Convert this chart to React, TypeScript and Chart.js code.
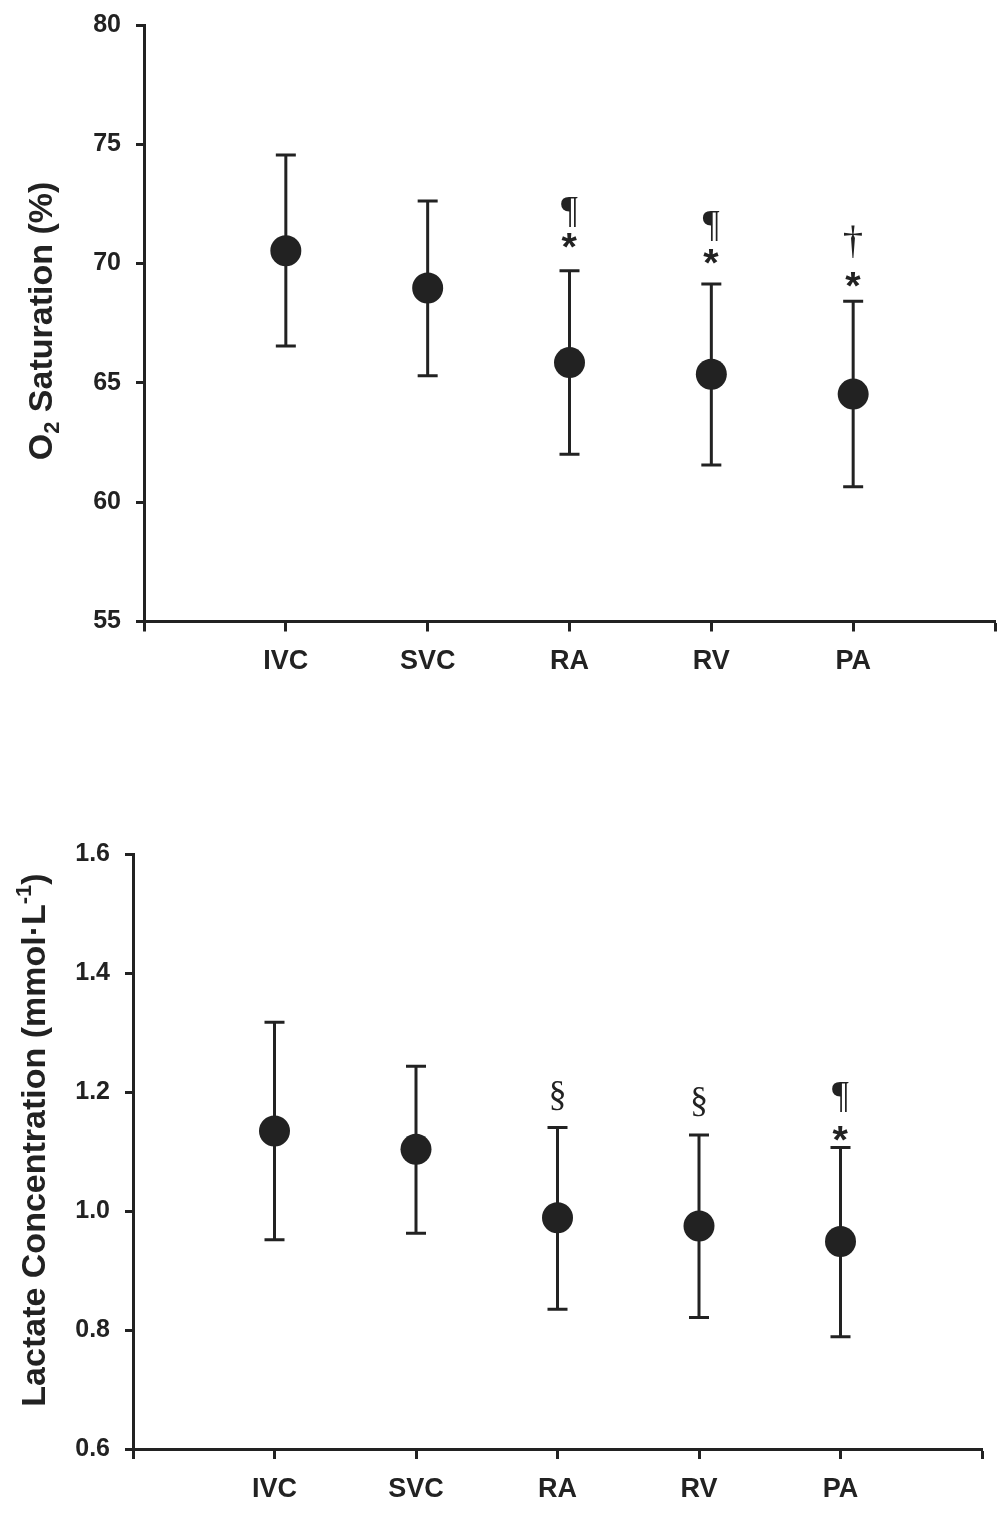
import React, { useEffect, useRef } from 'react';
import { Chart, registerables } from 'chart.js';

Chart.register(...registerables);

// ---------- data ----------
const categories = ['IVC', 'SVC', 'RA', 'RV', 'PA'];

const o2Mean = [70.54, 68.98, 65.85, 65.36, 64.53];
const o2Upper = [74.55, 72.62, 69.7, 69.15, 68.42];
const o2Lower = [66.55, 65.3, 62.01, 61.56, 60.65];
const o2TickValues = [55, 60, 65, 70, 75, 80];

const lacMean = [1.135, 1.104, 0.989, 0.975, 0.949];
const lacUpper = [1.318, 1.244, 1.141, 1.128, 1.107];
const lacLower = [0.952, 0.963, 0.835, 0.821, 0.789];
const lacTickValues = [0.6, 0.8, 1.0, 1.2, 1.4, 1.6];

// significance symbols: category, value position, symbol
const o2MarkCats = ['RA', 'RA', 'RV', 'RV', 'PA', 'PA'];
const o2MarkVals = [72.18, 70.95, 71.58, 70.29, 70.92, 69.35];
const o2MarkText = ['¶', '*', '¶', '*', '†', '*'];

const lacMarkCats = ['RA', 'RV', 'PA', 'PA'];
const lacMarkVals = [1.193, 1.1845, 1.192, 1.131];
const lacMarkText = ['§', '§', '¶', '*'];

const INK = '#222222';
const SANS = '"Liberation Sans", Arial, Helvetica, sans-serif';
const SERIF = '"Liberation Serif", "Times New Roman", serif';

// target glyph heights (px) for the symbols
const GLYPH_HEIGHT: Record<string, number> = { '*': 15, '¶': 29, '§': 29, '†': 33 };

type TitlePart = { text: string; mode: 'n' | 'sub' | 'sup' };

interface PanelCfg {
  width: number;
  height: number;
  top: number;
  mean: number[];
  upper: number[];
  lower: number[];
  ticks: number[];
  decimals: number;
  yAxisWidth: number;
  padTop: number;
  padRight: number;
  xAxisHeight: number;
  title: TitlePart[];
  titleBaseX: number;
  titleCenterY: number;
  markCats: string[];
  markVals: number[];
  markText: string[];
}

const TITLE_SIZE = 34;

function drawTitle(ctx: CanvasRenderingContext2D, cfg: PanelCfg) {
  const parts = cfg.title;
  const sizeOf = (p: TitlePart) => (p.mode === 'n' ? TITLE_SIZE : Math.round(TITLE_SIZE * 0.65));
  let total = 0;
  const widths: number[] = [];
  for (const p of parts) {
    ctx.font = `bold ${sizeOf(p)}px ${SANS}`;
    const w = ctx.measureText(p.text).width;
    widths.push(w);
    total += w;
  }
  ctx.save();
  ctx.translate(cfg.titleBaseX, cfg.titleCenterY);
  ctx.rotate(-Math.PI / 2);
  ctx.fillStyle = INK;
  ctx.textAlign = 'left';
  ctx.textBaseline = 'alphabetic';
  let u = -total / 2;
  parts.forEach((p, i) => {
    ctx.font = `bold ${sizeOf(p)}px ${SANS}`;
    let v = 0;
    if (p.mode === 'sub') v = TITLE_SIZE * 0.22;
    if (p.mode === 'sup') v = -TITLE_SIZE * 0.42;
    ctx.fillText(p.text, u, v);
    u += widths[i];
  });
  ctx.restore();
}

function fontFor(text: string, size: number) {
  return text === '*' ? `bold ${size}px ${SANS}` : `${size}px ${SERIF}`;
}

function drawMark(ctx: CanvasRenderingContext2D, text: string, px: number, py: number) {
  ctx.save();
  ctx.font = fontFor(text, 100);
  const m0 = ctx.measureText(text);
  const h0 = m0.actualBoundingBoxAscent + m0.actualBoundingBoxDescent || 60;
  const target = GLYPH_HEIGHT[text] ?? 28;
  const size = (100 * target) / h0;
  ctx.font = fontFor(text, size);
  ctx.fillStyle = INK;
  ctx.textAlign = 'left';
  ctx.textBaseline = 'alphabetic';
  const m = ctx.measureText(text);
  const w = m.actualBoundingBoxLeft + m.actualBoundingBoxRight;
  const h = m.actualBoundingBoxAscent + m.actualBoundingBoxDescent;
  const x = px - w / 2 + m.actualBoundingBoxLeft;
  const y = py - h / 2 + m.actualBoundingBoxAscent;
  ctx.fillText(text, x, y);
  ctx.restore();
}

function zeroPad(s: any) {
  s.paddingTop = 0;
  s.paddingBottom = 0;
  s.paddingLeft = 0;
  s.paddingRight = 0;
}

function buildChart(canvas: HTMLCanvasElement, cfg: PanelCfg) {
  const points = cfg.mean.map((v, i) => ({ x: i + 1, y: v }));
  const overlay = {
    id: 'overlay',
    beforeDatasetsDraw(chart: any) {
      const ctx = chart.ctx as CanvasRenderingContext2D;
      const xs = chart.scales.x;
      const ys = chart.scales.y;
      ctx.save();
      ctx.strokeStyle = INK;
      ctx.lineWidth = 3;
      ctx.lineCap = 'butt';
      cfg.mean.forEach((_, i) => {
        const px = xs.getPixelForValue(i + 1);
        const yu = ys.getPixelForValue(cfg.upper[i]);
        const yl = ys.getPixelForValue(cfg.lower[i]);
        ctx.beginPath();
        ctx.moveTo(px, yu);
        ctx.lineTo(px, yl);
        ctx.moveTo(px - 10, yu);
        ctx.lineTo(px + 10, yu);
        ctx.moveTo(px - 10, yl);
        ctx.lineTo(px + 10, yl);
        ctx.stroke();
      });
      ctx.restore();
    },
    afterDraw(chart: any) {
      const ctx = chart.ctx as CanvasRenderingContext2D;
      const xs = chart.scales.x;
      const ys = chart.scales.y;
      cfg.markCats.forEach((c, i) => {
        const px = xs.getPixelForValue(categories.indexOf(c) + 1);
        const py = ys.getPixelForValue(cfg.markVals[i]);
        drawMark(ctx, cfg.markText[i], px, py);
      });
      drawTitle(ctx, cfg);
    },
  };

  return new Chart(canvas, {
    type: 'scatter',
    data: {
      datasets: [
        {
          data: points,
          pointRadius: 15.5,
          pointHoverRadius: 15.5,
          pointBackgroundColor: INK,
          pointBorderWidth: 0,
          showLine: false,
          clip: false,
        },
      ],
    },
    options: {
      animation: false,
      responsive: false,
      devicePixelRatio: 1,
      events: [],
      layout: {
        autoPadding: false,
        padding: { left: 0, top: cfg.padTop, right: cfg.padRight, bottom: 0 },
      },
      plugins: { legend: { display: false }, tooltip: { enabled: false }, title: { display: false } },
      scales: {
        x: {
          type: 'linear',
          min: 0,
          max: 6,
          afterFit: (s: any) => {
            s.height = cfg.xAxisHeight;
            zeroPad(s);
          },
          afterBuildTicks: (s: any) => {
            s.ticks = [0, 1, 2, 3, 4, 5, 6].map((v) => ({ value: v }));
          },
          ticks: {
            autoSkip: false,
            maxRotation: 0,
            minRotation: 0,
            padding: 14,
            color: INK,
            font: { family: SANS, size: 27, weight: 'bold' },
            callback: (v: any) => categories[Number(v) - 1] ?? '',
          },
          grid: {
            display: true,
            drawOnChartArea: false,
            drawTicks: true,
            tickLength: 10,
            tickWidth: 3,
            tickColor: INK,
          },
          border: { display: true, width: 3, color: INK },
        },
        y: {
          type: 'linear',
          min: cfg.ticks[0],
          max: cfg.ticks[cfg.ticks.length - 1],
          afterFit: (s: any) => {
            s.width = cfg.yAxisWidth;
            zeroPad(s);
          },
          afterBuildTicks: (s: any) => {
            s.ticks = cfg.ticks.map((v) => ({ value: v }));
          },
          ticks: {
            autoSkip: false,
            padding: 15,
            color: INK,
            font: { family: SANS, size: 25, weight: 'bold' },
            callback: (v: any) => Number(v).toFixed(cfg.decimals),
          },
          grid: {
            display: true,
            drawOnChartArea: false,
            drawTicks: true,
            tickLength: 8,
            tickWidth: 3,
            tickColor: INK,
          },
          border: { display: true, width: 3, color: INK },
        },
      },
    },
    plugins: [overlay],
  } as any);
}

const topCfg: PanelCfg = {
  width: 1004,
  height: 760,
  top: 0,
  mean: o2Mean,
  upper: o2Upper,
  lower: o2Lower,
  ticks: o2TickValues,
  decimals: 0,
  yAxisWidth: 144,
  padTop: 25,
  padRight: 9,
  xAxisHeight: 760 - 621.5,
  title: [
    { text: 'O', mode: 'n' },
    { text: '2', mode: 'sub' },
    { text: ' Saturation (%)', mode: 'n' },
  ],
  titleBaseX: 52,
  titleCenterY: 321,
  markCats: o2MarkCats,
  markVals: o2MarkVals,
  markText: o2MarkText,
};

const bottomCfg: PanelCfg = {
  width: 1004,
  height: 761,
  top: 760,
  mean: lacMean,
  upper: lacUpper,
  lower: lacLower,
  ticks: lacTickValues,
  decimals: 1,
  yAxisWidth: 133,
  padTop: 94.5,
  padRight: 22,
  xAxisHeight: 761 - 689,
  title: [
    { text: 'Lactate Concentration (mmol\u00B7L', mode: 'n' },
    { text: '-1', mode: 'sup' },
    { text: ')', mode: 'n' },
  ],
  titleBaseX: 45,
  titleCenterY: 380,
  markCats: lacMarkCats,
  markVals: lacMarkVals,
  markText: lacMarkText,
};

function Panel({ cfg }: { cfg: PanelCfg }) {
  const ref = useRef<HTMLCanvasElement | null>(null);
  useEffect(() => {
    if (!ref.current) return;
    const chart = buildChart(ref.current, cfg);
    return () => chart.destroy();
  }, [cfg]);
  return (
    <canvas
      ref={ref}
      width={cfg.width}
      height={cfg.height}
      style={{ position: 'absolute', left: 0, top: cfg.top, width: cfg.width, height: cfg.height }}
    />
  );
}

export default function App() {
  return (
    <div
      style={{
        position: 'absolute',
        left: 0,
        top: 0,
        width: 1004,
        height: 1521,
        background: '#ffffff',
        overflow: 'hidden',
      }}
    >
      <Panel cfg={topCfg} />
      <Panel cfg={bottomCfg} />
    </div>
  );
}
